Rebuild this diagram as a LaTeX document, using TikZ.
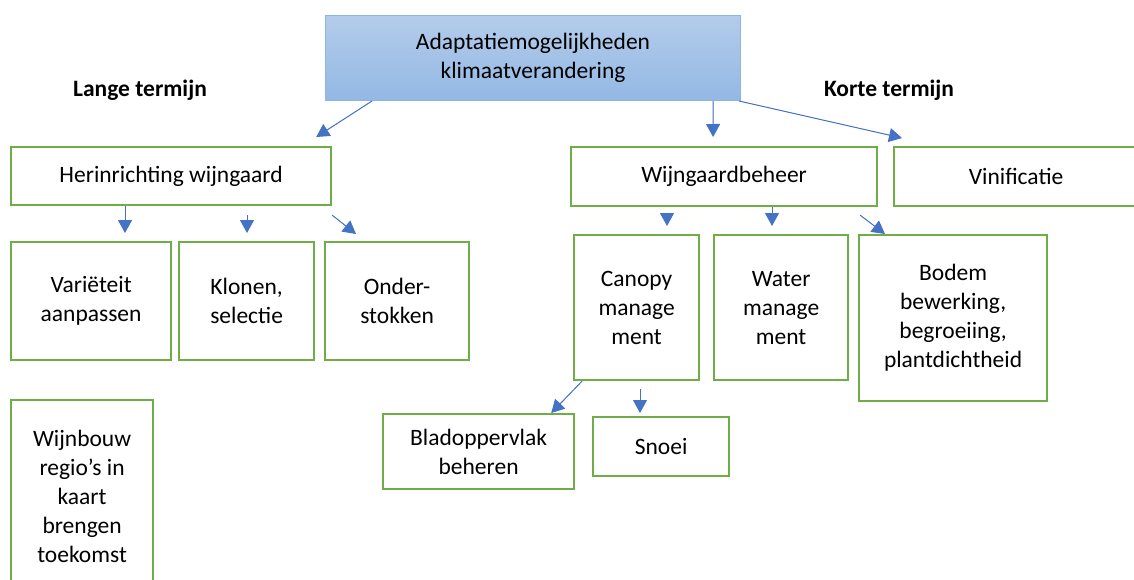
\documentclass[tikz,border=0pt]{standalone}
\usepackage{fontspec}
\setmainfont{Carlito}
\usetikzlibrary{arrows.meta, positioning}

\definecolor{boxgreen}{HTML}{70AD47}
\definecolor{arrowblue}{HTML}{4472C4}
\definecolor{headtop}{HTML}{B4CCEA}
\definecolor{headbottom}{HTML}{93B8E4}
\definecolor{headline}{HTML}{8EB4E3}

\tikzset{
  every node/.style={font=\fontsize{23.5}{29}\selectfont, align=center, inner sep=0pt},
  greenbox/.style={draw=boxgreen, line width=2.2pt, anchor=north west},
  headbox/.style={draw=headline, line width=1pt, top color=headtop, bottom color=headbottom, anchor=north west},
  termlabel/.style={font=\fontsize{23.5}{29}\selectfont\bfseries},
  arr/.style={draw=arrowblue, line width=1pt, -{Triangle[length=13pt,width=14pt]}, fill=arrowblue}
}

\begin{document}
\begin{tikzpicture}[x=1pt, y=-1pt]
				\useasboundingbox (0,0) rectangle (1134,579);
				\clip (0,0) rectangle (1134,579);
				
				% top of the tree
				\node[headbox, minimum width=415pt, minimum height=85pt] (adapt) at (325,15) {Adaptatiemogelijkheden\\klimaatverandering};
				\node[termlabel] (lang) at (140,90) {Lange termijn};
				\node[termlabel] (kort) at (889,90) {Korte termijn};
				
				% lange termijn
				\node[greenbox, minimum width=320pt, minimum height=58pt] (herin) at (10,146) {Herinrichting wijngaard};
				\node[greenbox, minimum width=160pt, minimum height=118pt] (variet) at (10,241) {Variëteit\\aanpassen};
				\node[greenbox, minimum width=135pt, minimum height=118pt] (klonen) at (178,241) {Klonen,\\selectie};
				\node[greenbox, minimum width=144pt, minimum height=118pt] (onder) at (324,241) {Onder-\\stokken};
				\node[greenbox, minimum width=142pt, minimum height=192pt] (regio) at (10,399) {Wijnbouw\\regio’s in\\kaart\\brengen\\toekomst};
				
				% korte termijn
				\node[greenbox, minimum width=306pt, minimum height=59pt] (beheer) at (570,146) {Wijngaardbeheer};
				\node[greenbox, minimum width=244pt, minimum height=59pt] (vini) at (893,146) {Vinificatie};
				\node[greenbox, minimum width=125pt, minimum height=145pt] (canopy) at (573,234) {Canopy\\manage\\ment};
				\node[greenbox, minimum width=134pt, minimum height=145pt] (water) at (713,234) {Water\\manage\\ment};
				\node[greenbox, minimum width=188pt, minimum height=166pt] (bodem) at (858,234) {Bodem\\bewerking,\\begroeiing,\\plantdichtheid};
				\node[greenbox, minimum width=191pt, minimum height=75pt] (blad) at (382,413) {Bladoppervlak\\beheren};
				\node[greenbox, minimum width=136pt, minimum height=59pt] (snoei) at (592,416) {Snoei};
				
				% pijlen
				\draw[arr] ([xshift=47pt]adapt.south west) -- ([xshift=-16pt,yshift=9pt]herin.north east);
				\draw[arr] ([xshift=-28pt]adapt.south east) -- ([xshift=-11pt,yshift=9pt]beheer.north);
				\draw[arr] ([xshift=-2pt]adapt.south east) -- ([xshift=9pt,yshift=8pt]vini.north west);
				
				\draw[arr] ([xshift=115pt]herin.south west) -- ([xshift=115pt,yshift=8pt]variet.north west);
				\draw[arr] ([xshift=237pt,yshift=-9pt]herin.south west) -- ([xshift=69pt,yshift=8pt]klonen.north west);
				\draw[arr] ([yshift=-9pt]herin.south east) -- ([xshift=32pt,yshift=7pt]onder.north west);
				
				\draw[arr] ([xshift=97pt,yshift=-8pt]beheer.south west) -- ([xshift=94pt,yshift=8pt]canopy.north west);
				\draw[arr] ([xshift=202pt]beheer.south west) -- ([xshift=59pt,yshift=8pt]water.north west);
				\draw[arr] ([xshift=-18pt,yshift=-8pt]beheer.south east) -- ([xshift=27pt]bodem.north west);
				
				\draw[arr] ([xshift=9pt]canopy.south west) -- ([xshift=-24pt]blad.north east);
				\draw[arr] ([xshift=67pt,yshift=-8pt]canopy.south west) -- ([xshift=48pt,yshift=3pt]snoei.north west);
			\end{tikzpicture}
\end{document}
